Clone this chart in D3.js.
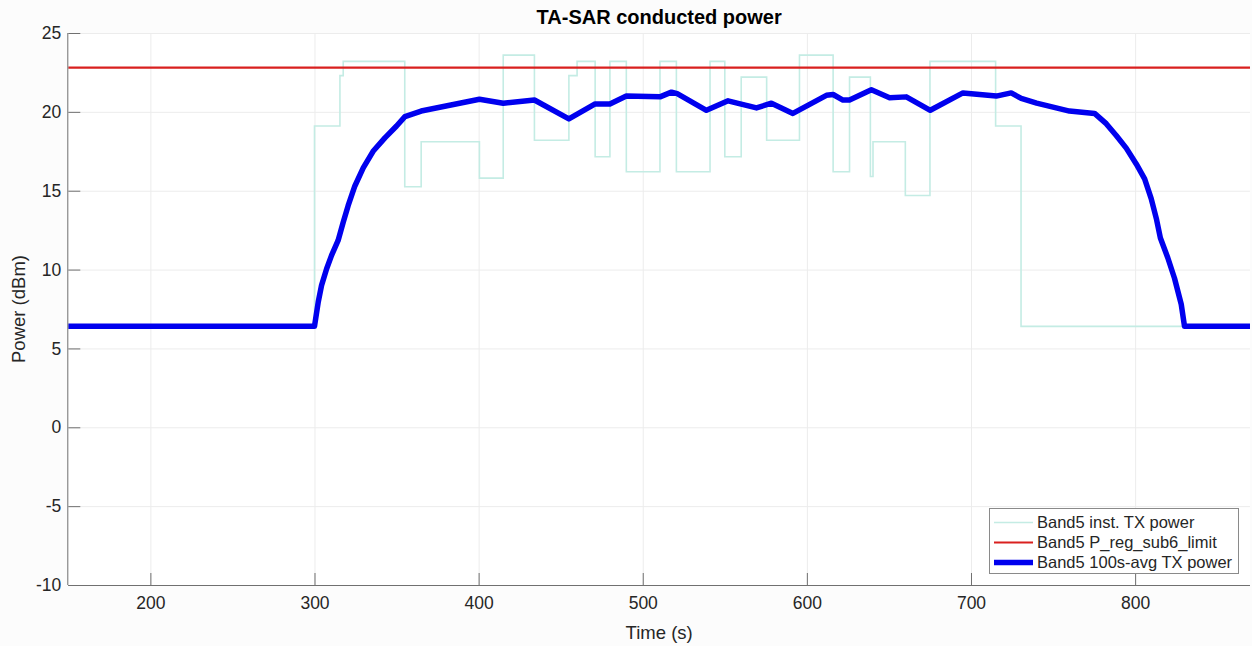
<!DOCTYPE html>
<html>
<head>
<meta charset="utf-8">
<script src="https://cdn.jsdelivr.net/npm/d3@7"></script>
<style>
  html, body { margin: 0; padding: 0; background: #fcfcfc; }
  svg { display: block; font-family: "Liberation Sans", Arial, Helvetica, sans-serif; }
</style>
</head>
<body>
<svg id="chart" width="1252" height="646"></svg>
<script>
// ---- data ----
const instTime = [150, 300, 315.5, 317.5, 355, 365, 400.5, 415, 434, 455, 460, 471, 480, 490, 510.5, 520.5, 541, 550, 560, 575.5, 595.5, 616, 626, 638.7, 640.3, 660, 675, 715, 730.5, 870];
const instPower = [6.4, 19.1, 22.3, 23.2, 15.25, 18.1, 15.8, 23.6, 18.2, 22.3, 23.2, 17.15, 23.2, 16.2, 23.2, 16.2, 23.2, 17.15, 22.2, 18.2, 23.6, 16.2, 22.2, 15.9, 18.1, 14.7, 23.2, 19.1, 6.4, 6.4];

const limitTime = [150, 870];
const limitPower = [22.8, 22.8];

const avgTime = [150, 300, 302.3, 304.3, 307.4, 310.4, 314.4, 317.5, 320.5, 324.6, 329.7, 335.7, 342.9, 350, 355.1, 365, 400.5, 415, 434, 455, 471, 480, 490, 510.5, 517.5, 521, 538.8, 552, 569.3, 578.4, 591.5, 611.9, 616, 622, 626, 639.3, 650.4, 660.6, 675.2, 695.1, 715.4, 724.5, 730.6, 740, 760, 775.3, 782.4, 788.5, 794.6, 800.7, 805.8, 809.8, 812.9, 815.4, 819.9, 824, 828.1, 830.1, 870];
const avgPower = [6.4, 6.4, 7.95, 9.0, 10.05, 10.9, 11.85, 13.0, 14.05, 15.3, 16.45, 17.5, 18.35, 19.1, 19.7, 20.05, 20.8, 20.55, 20.75, 19.55, 20.5, 20.5, 21.0, 20.95, 21.25, 21.15, 20.1, 20.7, 20.25, 20.55, 19.9, 21.05, 21.1, 20.75, 20.75, 21.4, 20.9, 20.95, 20.1, 21.2, 21.0, 21.2, 20.85, 20.55, 20.05, 19.9, 19.25, 18.5, 17.7, 16.7, 15.75, 14.5, 13.25, 12.0, 10.75, 9.45, 7.8, 6.4, 6.4];

const xTicks = [200, 300, 400, 500, 600, 700, 800];
const yTicks = [-10, -5, 0, 5, 10, 15, 20, 25];

const seriesNames = ["Band5 inst. TX power", "Band5 P_reg_sub6_limit", "Band5 100s-avg TX power"];
const titleText = "TA-SAR conducted power";
const xLabel = "Time (s)";
const yLabel = "Power (dBm)";

// ---- layout ----
const svg = d3.select("#chart");
const L = 68.3, R = 1250, T = 33, B = 585;
const x = d3.scaleLinear().domain([150, 870]).range([L, R]);
const y = d3.scaleLinear().domain([-10, 25]).range([B, T]);
const fmt = d => String(d);

// plot background
svg.append("rect").attr("x", L).attr("y", T).attr("width", R - L).attr("height", B - T).attr("fill", "#ffffff");

// grid
const gx = svg.append("g").attr("transform", `translate(0,${B})`)
  .call(d3.axisBottom(x).tickValues(xTicks).tickSize(-(B - T)).tickFormat(""));
gx.select(".domain").remove();
gx.selectAll("line").attr("stroke", "#ececec").attr("stroke-width", 1);
const gy = svg.append("g").attr("transform", `translate(${L},0)`)
  .call(d3.axisLeft(y).tickValues(yTicks).tickSize(-(R - L)).tickFormat(""));
gy.select(".domain").remove();
gy.selectAll("line").attr("stroke", "#ececec").attr("stroke-width", 1);

// lines
const instLine = d3.line().x(i => x(instTime[i])).y(i => y(instPower[i])).curve(d3.curveStepAfter);
svg.append("path").attr("d", instLine(d3.range(instTime.length)))
  .attr("fill", "none").attr("stroke", "#c4ece4").attr("stroke-width", 1.6);

const limLine = d3.line().x(i => x(limitTime[i])).y(i => y(limitPower[i]));
svg.append("path").attr("d", limLine(d3.range(limitTime.length)))
  .attr("fill", "none").attr("stroke", "#d9201f").attr("stroke-width", 2.2);

const avgLine = d3.line().x(i => x(avgTime[i])).y(i => y(avgPower[i]));
svg.append("path").attr("d", avgLine(d3.range(avgTime.length)))
  .attr("fill", "none").attr("stroke", "#0000ee").attr("stroke-width", 5.5)
  .attr("stroke-linejoin", "round");

// axes
const ax = svg.append("g").attr("transform", `translate(0,${B})`)
  .call(d3.axisBottom(x).tickValues(xTicks).tickFormat(fmt).tickSizeInner(-12).tickSizeOuter(0).tickPadding(12));
ax.select(".domain").attr("stroke", "#707070").attr("d", `M${L},0.5H${R}`);
ax.selectAll(".tick line").attr("stroke", "#707070");
ax.selectAll("text").attr("font-size", 17.5).attr("fill", "#262626").attr("font-family", "Liberation Sans, Arial, sans-serif");

const ay = svg.append("g").attr("transform", `translate(${L},0)`)
  .call(d3.axisLeft(y).tickValues(yTicks).tickFormat(fmt).tickSizeInner(-12).tickSizeOuter(0).tickPadding(7));
ay.select(".domain").attr("stroke", "#707070").attr("d", `M-0.5,${T}V${B}`);
ay.selectAll(".tick line").attr("stroke", "#707070");
ay.selectAll("text").attr("font-size", 17.5).attr("fill", "#262626").attr("font-family", "Liberation Sans, Arial, sans-serif");

// title and labels
svg.append("text").attr("x", (L + R) / 2).attr("y", 24).attr("text-anchor", "middle")
  .attr("font-size", 20).attr("font-weight", "bold").attr("fill", "#000").text(titleText);
svg.append("text").attr("x", (L + R) / 2).attr("y", 639).attr("text-anchor", "middle")
  .attr("font-size", 18.5).attr("fill", "#262626").text(xLabel);
svg.append("text").attr("transform", `translate(25,${(T + B) / 2}) rotate(-90)`).attr("text-anchor", "middle")
  .attr("font-size", 18.5).attr("fill", "#262626").text(yLabel);

// legend
const lg = svg.append("g");
lg.append("rect").attr("x", 989.5).attr("y", 508.5).attr("width", 249).attr("height", 65)
  .attr("fill", "#ffffff").attr("stroke", "#8a8a8a").attr("stroke-width", 1);
const legendColors = ["#c4ece4", "#d9201f", "#0000ee"];
const legendWidths = [1.6, 2.2, 5.5];
const rowY = [522.5, 542.5, 562.5];
seriesNames.forEach((name, i) => {
  lg.append("line").attr("x1", 994).attr("x2", 1033).attr("y1", rowY[i]).attr("y2", rowY[i])
    .attr("stroke", legendColors[i]).attr("stroke-width", legendWidths[i]);
  lg.append("text").attr("x", 1037).attr("y", rowY[i]).attr("dy", "0.35em")
    .attr("font-size", 16.5).attr("fill", "#262626").text(name);
});
</script>
</body>
</html>
